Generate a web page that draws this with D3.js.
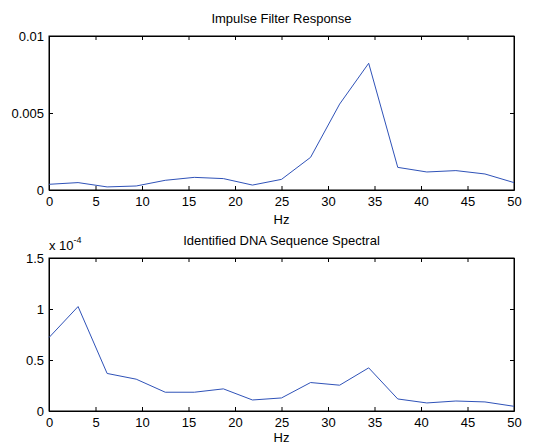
<!DOCTYPE html>
<html>
<head>
<meta charset="utf-8">
<script src="https://cdn.jsdelivr.net/npm/d3@7"></script>
<style>
  body { margin: 0; background: #fff; }
  text { font-family: "Liberation Sans", Arial, sans-serif; fill: #000; }
</style>
</head>
<body>
<div id="chart"></div>
<script>
// frequency bins (Hz)
const freqs = [0, 3.125, 6.25, 9.375, 12.5, 15.625, 18.75, 21.875, 25, 28.125, 31.25, 34.375, 37.5, 40.625, 43.75, 46.875, 50]
// impulse filter response
const impulse = [0.00037, 0.00048, 0.00020, 0.00026, 0.00063, 0.00082, 0.00074, 0.00032, 0.00069, 0.00212, 0.00558, 0.00823, 0.00147, 0.00117, 0.00126, 0.00104, 0.00048]
// DNA spectral, in units of 1e-4
const dnaSpectral = [0.72, 1.024, 0.368, 0.312, 0.184, 0.184, 0.217, 0.108, 0.128, 0.279, 0.253, 0.423, 0.118, 0.079, 0.098, 0.089, 0.046]
const xTicks = [0, 5, 10, 15, 20, 25, 30, 35, 40, 45, 50]
const impulseTicks = [0, 0.005, 0.01]
const dnaTicks = [0, 0.5, 1, 1.5]

const width = 533, height = 446
const svg = d3.select("#chart").append("svg").attr("width", width).attr("height", height)

function panel(opts) {
  const left = 49, right = 514
  const xScale = d3.scaleLinear().domain([0, 50]).range([left, right])
  const yScale = d3.scaleLinear().domain(opts.ydomain).range([opts.bottom, opts.top])
  const g = svg.append("g")

  g.append("g")
    .attr("transform", "translate(0," + opts.bottom + ")")
    .call(d3.axisBottom(xScale).tickValues(xTicks).tickSizeInner(-4).tickSizeOuter(0).tickPadding(7))
  g.append("g")
    .attr("transform", "translate(0," + opts.top + ")")
    .call(d3.axisTop(xScale).tickValues(xTicks).tickSizeInner(-4).tickSizeOuter(0).tickFormat(""))
  g.append("g")
    .attr("transform", "translate(" + left + ",0)")
    .call(d3.axisLeft(yScale).tickValues(opts.yticks).tickSizeInner(-4).tickSizeOuter(0).tickPadding(5).tickFormat(opts.fmt))
  g.append("g")
    .attr("transform", "translate(" + right + ",0)")
    .call(d3.axisRight(yScale).tickValues(opts.yticks).tickSizeInner(-4).tickSizeOuter(0).tickFormat(""))

  g.selectAll(".domain").attr("stroke", "#000")
  g.selectAll(".tick line").attr("stroke", "#000")
  g.selectAll(".tick text").attr("font-size", 13).attr("font-family", "Liberation Sans, Arial, sans-serif")

  g.append("rect")
    .attr("x", left).attr("y", opts.top)
    .attr("width", right - left).attr("height", opts.bottom - opts.top)
    .attr("fill", "none").attr("stroke", "#000").attr("stroke-width", 1)

  const line = d3.line()
    .x(function(d, i) { return xScale(freqs[i]) })
    .y(function(d) { return yScale(d) })
  g.append("path")
    .datum(opts.values)
    .attr("fill", "none")
    .attr("stroke", "#2f52b8")
    .attr("stroke-width", 1)
    .attr("d", line)

  g.append("text")
    .attr("x", (left + right) / 2).attr("y", opts.top - 13)
    .attr("text-anchor", "middle").attr("font-size", 13)
    .text(opts.title)
  g.append("text")
    .attr("x", (left + right) / 2).attr("y", opts.bottom + opts.hzOffset)
    .attr("text-anchor", "middle").attr("font-size", 13)
    .text("Hz")
  return g
}

panel({
  top: 36, bottom: 190, ydomain: [0, 0.01], yticks: impulseTicks,
  values: impulse, title: "Impulse Filter Response", hzOffset: 34,
  fmt: function(d) { return d === 0 ? "0" : String(d) }
})

const g2 = panel({
  top: 258, bottom: 411, ydomain: [0, 1.5], yticks: dnaTicks,
  values: dnaSpectral, title: "Identified DNA Sequence Spectral", hzOffset: 31,
  fmt: function(d) { return String(d) }
})

const mult = g2.append("text").attr("x", 49).attr("y", 250).attr("font-size", 13)
mult.append("tspan").text("x 10")
mult.append("tspan").attr("dy", -7).attr("font-size", 9).text("-4")
</script>
</body>
</html>
